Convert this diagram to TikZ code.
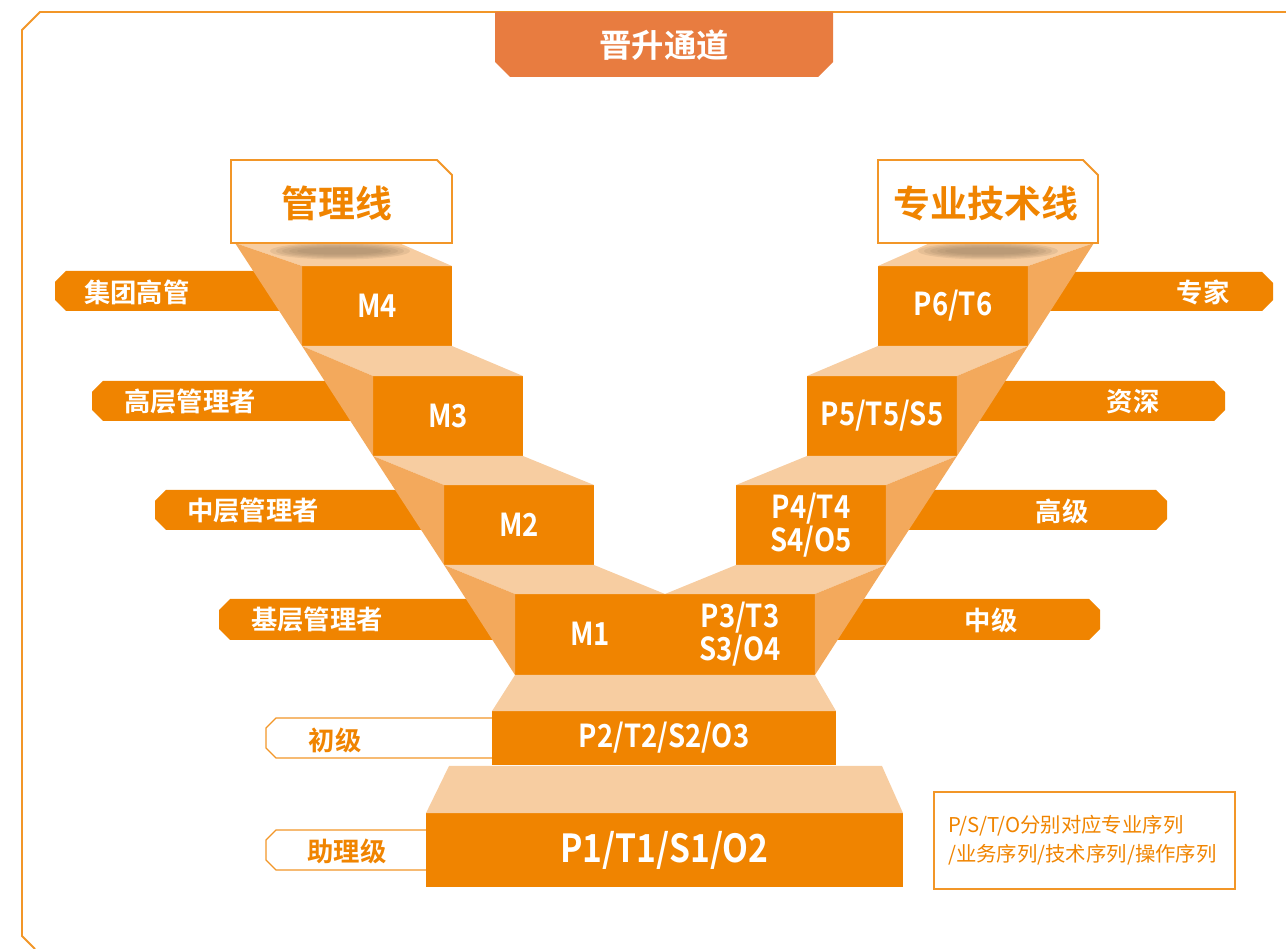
\documentclass[tikz,border=0pt]{standalone}
\usepackage{fontspec}
\setmainfont{Noto Sans CJK SC}[BoldFont={Noto Sans CJK SC Bold}]
\newfontfamily\stepfont{Noto Sans CJK SC Bold}[FakeStretch=0.87]
\definecolor{stairorange}{RGB}{240,132,0}
\definecolor{toplight}{RGB}{247,205,161}
\definecolor{sidemid}{RGB}{243,169,92}
\definecolor{titleorange}{RGB}{232,124,64}
\definecolor{lineorange}{RGB}{242,150,40}
\definecolor{shadowbrown}{RGB}{150,122,95}
\tikzset{
  stepbox/.style={fill=stairorange, inner sep=0pt, outer sep=0pt, text=white,
    font=\stepfont\fontsize{18}{19}\selectfont, align=center},
  topface/.style={fill=toplight},
  sideface/.style={fill=sidemid},
  tabfill/.style={fill=stairorange},
  tabline/.style={draw=lineorange, fill=white, line width=0.8pt},
  tabtext/.style={text=white, font=\bfseries\fontsize{15}{16}\selectfont},
  tabouttext/.style={text=stairorange, font=\bfseries\fontsize{15}{16}\selectfont},
  headbox/.style={draw=lineorange, fill=white, line width=1.1pt},
  headtext/.style={text=stairorange, font=\bfseries\fontsize{21}{22}\selectfont},
  shadowlayer/.style={fill=shadowbrown, opacity=0.17}
}
\begin{document}
\begin{tikzpicture}[x=0.02cm, y=-0.02cm]
  \useasboundingbox (0,0) rectangle (1286,949);
  % outer frame
  \draw[lineorange, line width=1.1pt] (35,949) -- (22,936) -- (22,30) -- (40,12) -- (1286,12);
  % title banner
  \fill[titleorange] (495,12) -- (833,12) -- (833,62) -- (818,77) -- (510,77) -- (495,62) -- cycle;
  \node[text=white, font=\bfseries\fontsize{18.4}{20}\selectfont] (title) at (664,45) {晋升通道};

  % level tabs, left
  \fill[tabfill] (66,271) -- (310,271) -- (310,311) -- (66,311) -- (55,300) -- (55,282) -- cycle;
  \fill[tabfill] (103,381) -- (380,381) -- (380,421) -- (103,421) -- (92,410) -- (92,392) -- cycle;
  \fill[tabfill] (166,490) -- (450,490) -- (450,530) -- (166,530) -- (155,519) -- (155,501) -- cycle;
  \fill[tabfill] (230,599) -- (520,599) -- (520,640) -- (230,640) -- (219,629) -- (219,610) -- cycle;
  % level tabs, right
  \fill[tabfill] (1020,272) -- (1262,272) -- (1273,283) -- (1273,300) -- (1262,311) -- (1020,311) -- cycle;
  \fill[tabfill] (950,381) -- (1214,381) -- (1225,392) -- (1225,410) -- (1214,421) -- (950,421) -- cycle;
  \fill[tabfill] (880,490) -- (1156,490) -- (1167,501) -- (1167,519) -- (1156,530) -- (880,530) -- cycle;
  \fill[tabfill] (810,599) -- (1089,599) -- (1100,610) -- (1100,629) -- (1089,640) -- (810,640) -- cycle;
  % level tabs, outline
  \draw[tabline] (500,718) -- (276,718) -- (266,728) -- (266,748) -- (276,758) -- (500,758);
  \draw[tabline] (430,830) -- (276,830) -- (266,840) -- (266,860) -- (276,870) -- (430,870);

  % tab labels
  \node[tabtext] (lvlg) at (137,292) {集团高管};
  \node[tabtext] (lvlh) at (190,402) {高层管理者};
  \node[tabtext] (lvlm) at (253,511) {中层管理者};
  \node[tabtext] (lvlb) at (317,620) {基层管理者};
  \node[tabtext] (lvle) at (1203,292) {专家};
  \node[tabtext] (lvls) at (1133,402) {资深};
  \node[tabtext] (lvla) at (1062,511) {高级};
  \node[tabtext] (lvlc) at (991,620) {中级};
  \node[tabouttext] (lvlj) at (335,740) {初级};
  \node[tabouttext] (lvlz) at (347,851) {助理级};

  % step fronts
  \node[stepbox, minimum width=3cm, minimum height=1.6cm] (m4) at (377,306) {M4};
  \node[stepbox, minimum width=3cm, minimum height=1.6cm] (m3) at (448,416) {M3};
  \node[stepbox, minimum width=3cm, minimum height=1.6cm] (m2) at (519,525) {M2};
  \node[stepbox, minimum width=6cm, minimum height=1.62cm] (mid) at (665,634.5) {};
  \node[stepbox, minimum width=3cm, minimum height=1.6cm] (p4) at (811,525) {P4/T4\\S4/O5};
  \node[stepbox, minimum width=3cm, minimum height=1.6cm] (p5) at (882,416) {P5/T5/S5};
  \node[stepbox, minimum width=3cm, minimum height=1.6cm] (p6) at (953,306) {P6/T6};
  \node[stepbox, minimum width=6.88cm, minimum height=1.08cm] (p2) at (664,738) {P2/T2/S2/O3};
  \node[stepbox, minimum width=9.54cm, minimum height=1.48cm,
    font=\stepfont\fontsize{22}{24}\selectfont] (p1) at (664.5,850) {P1/T1/S1/O2};
  \node[stepbox] (m1) at (590,634) {M1};
  \node[stepbox] (p3) at (740,634) {P3/T3\\S3/O4};

  % step tops and sides
  \coordinate (mtop1) at (235,243);
  \coordinate (mtop2) at (399,243);
  \coordinate (ptop1) at (930,243);
  \coordinate (ptop2) at (1094,243);
  \coordinate (base1) at (449,766);
  \coordinate (base2) at (882,766);
  \fill[topface] (mtop1) -- (mtop2) -- (m4.north east) -- (m4.north west) -- cycle;
  \fill[sideface] (mtop1) -- (m4.north west) -- (m4.south west) -- cycle;
  \fill[topface] (m4.south west) -- (m4.south east) -- (m3.north east) -- (m3.north west) -- cycle;
  \fill[sideface] (m4.south west) -- (m3.north west) -- (m3.south west) -- cycle;
  \fill[topface] (m3.south west) -- (m3.south east) -- (m2.north east) -- (m2.north west) -- cycle;
  \fill[sideface] (m3.south west) -- (m2.north west) -- (m2.south west) -- cycle;
  \fill[topface] (m2.south west) -- (m2.south east) -- (mid.north) -- (p4.south west)
    -- (p4.south east) -- (mid.north east) -- (mid.north west) -- cycle;
  \fill[sideface] (m2.south west) -- (mid.north west) -- (mid.south west) -- cycle;
  \fill[sideface] (p4.south east) -- (mid.north east) -- (mid.south east) -- cycle;
  \fill[topface] (ptop1) -- (ptop2) -- (p6.north east) -- (p6.north west) -- cycle;
  \fill[sideface] (ptop2) -- (p6.north east) -- (p6.south east) -- cycle;
  \fill[topface] (p6.south west) -- (p6.south east) -- (p5.north east) -- (p5.north west) -- cycle;
  \fill[sideface] (p6.south east) -- (p5.north east) -- (p5.south east) -- cycle;
  \fill[topface] (p5.south west) -- (p5.south east) -- (p4.north east) -- (p4.north west) -- cycle;
  \fill[sideface] (p5.south east) -- (p4.north east) -- (p4.south east) -- cycle;
  \fill[topface] (mid.south west) -- (mid.south east) -- (p2.north east) -- (p2.north west) -- cycle;
  \fill[topface] (base1) -- (base2) -- (p1.north east) -- (p1.north west) -- cycle;

  % shadows under the headers
  \fill[shadowlayer] (340,251) ellipse (1.40cm and 0.17cm);
  \fill[shadowlayer] (340,251) ellipse (1.28cm and 0.145cm);
  \fill[shadowlayer] (340,251) ellipse (1.16cm and 0.12cm);
  \fill[shadowlayer] (340,251) ellipse (1.02cm and 0.095cm);
  \fill[shadowlayer] (340,251) ellipse (0.86cm and 0.07cm);
  \fill[shadowlayer] (988,251) ellipse (1.40cm and 0.17cm);
  \fill[shadowlayer] (988,251) ellipse (1.28cm and 0.145cm);
  \fill[shadowlayer] (988,251) ellipse (1.16cm and 0.12cm);
  \fill[shadowlayer] (988,251) ellipse (1.02cm and 0.095cm);
  \fill[shadowlayer] (988,251) ellipse (0.86cm and 0.07cm);

  % headers
  \draw[headbox] (231,160) -- (437,160) -- (452,175) -- (452,243) -- (231,243) -- cycle;
  \node[headtext] (mline) at (337,203) {管理线};
  \draw[headbox] (878,160) -- (1083,160) -- (1098,175) -- (1098,243) -- (878,243) -- cycle;
  \node[headtext] (pline) at (986,203) {专业技术线};

  % note
  \node[draw=lineorange, line width=1.1pt, minimum height=1.94cm, inner xsep=0.28cm,
    text width=5.46cm, text=stairorange, align=left,
    font=\fontsize{11.6}{16.6}\selectfont] (note) at (1084.5,840.5)
    {P/S/T/O分别对应专业序列\\/业务序列/技术序列/操作序列};
\end{tikzpicture}
\end{document}
